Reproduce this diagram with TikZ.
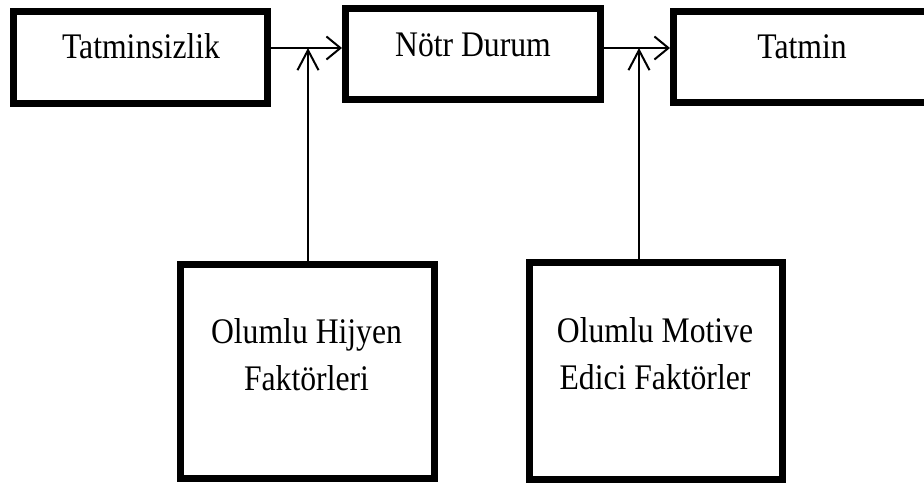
\documentclass[tikz,border=0pt]{standalone}
\usepackage{graphicx}
\usepackage{fontspec}
\setmainfont{Liberation Serif}
\usetikzlibrary{arrows.meta}
% slightly condensed serif lettering
\newcommand{\condensed}[1]{\scalebox{0.88}[1]{#1}}
\newcommand{\twolines}[2]{\condensed{\begin{tabular}[t]{@{}c@{}}#1\\#2\end{tabular}}}
\begin{document}
\begin{tikzpicture}[x=1pt,y=-1pt,
  box/.style={draw=black, line width=7pt, fill=white, inner sep=0pt},
  label text/.style={anchor=base, inner sep=0pt, font=\fontsize{36}{47}\selectfont},
  link/.style={draw=black, line width=2pt, -{Straight Barb[length=14pt,width=23pt]}},
  feed/.style={draw=black, line width=2pt, -{Straight Barb[length=20pt,width=21pt]}}]
  \useasboundingbox (0,0) rectangle (924,484);
  \fill[white] (0,0) rectangle (924,484);
  \clip (0,0) rectangle (924,484);

  % top row of states
  \node[box, minimum width=254pt, minimum height=92pt] (sat0) at (140.5,57.5) {};
  \node[box, minimum width=255pt, minimum height=91pt] (sat1) at (473,54) {};
  \node[box, minimum width=261.5pt, minimum height=91pt] (sat2) at (804.25,57) {};
  % factor boxes
  \node[box, minimum width=254pt, minimum height=214pt] (hyg) at (307.5,371.5) {};
  \node[box, minimum width=253pt, minimum height=217pt] (mot) at (656,371) {};

  % texts
  \node[label text] (t0) at (141,59) {\condensed{Tatminsizlik}};
  \node[label text] (t1) at (473,57) {\condensed{Nötr Durum}};
  \node[label text] (t2) at (802,59) {\condensed{Tatmin}};
  \node[label text] (t3) at (306.5,343) {\twolines{Olumlu Hijyen}{Faktörleri}};
  \node[label text] (t4) at (655,342) {\twolines{Olumlu Motive}{Edici Faktörler}};

  % junction points on the horizontal links
  \coordinate (j0) at (308,48);
  \coordinate (j1) at (639,48);

  % connectors
  \draw[link] (sat0.east |- j0) -- (sat1.west |- j0);
  \draw[link] (sat1.east |- j1) -- (sat2.west |- j1);
  \draw[feed] (j0 |- hyg.north) -- (j0);
  \draw[feed] (j1 |- mot.north) -- (j1);
\end{tikzpicture}
\end{document}
